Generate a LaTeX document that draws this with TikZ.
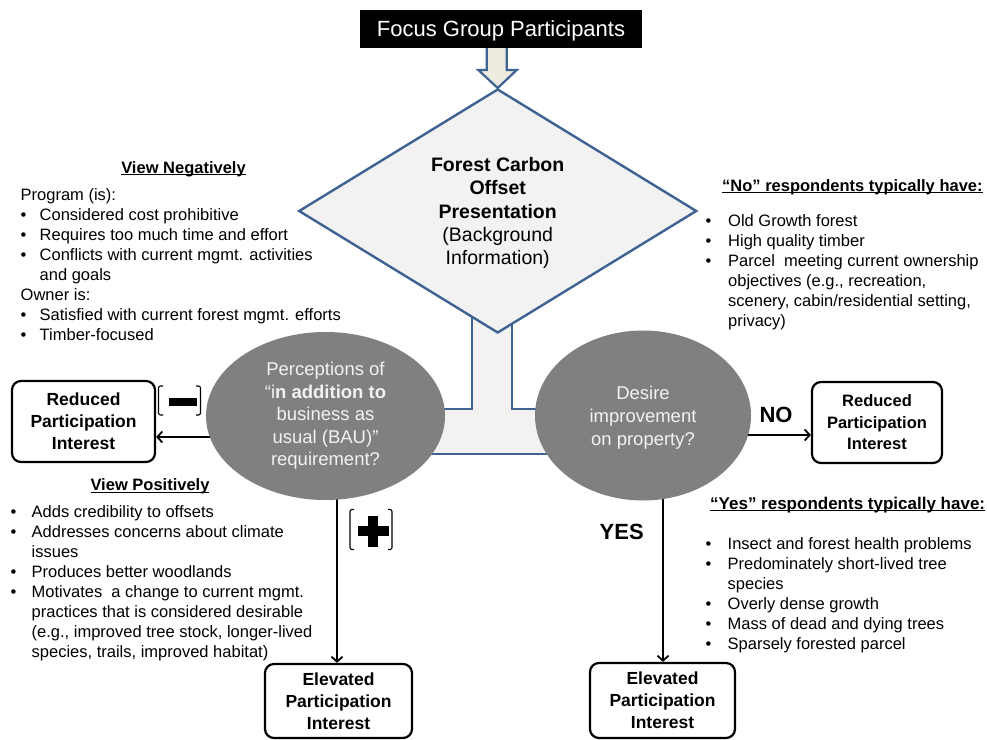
\documentclass[tikz,border=0pt]{standalone}
\usepackage{fontspec}
\setmainfont{Liberation Sans}
\usetikzlibrary{shapes.geometric,arrows.meta,calc}
\definecolor{dblue}{RGB}{62,98,145}
\definecolor{lgray}{RGB}{242,242,242}
\definecolor{beige}{RGB}{238,236,225}
\definecolor{egray}{RGB}{128,128,128}
\definecolor{etext}{RGB}{242,242,242}
\newlength\myulw
\newcommand\myul[1]{\settowidth\myulw{#1}\rlap{\rule[-2.2pt]{\myulw}{1.2pt}}#1}
\newcommand\bu[1]{\makebox[#1][l]{•}}
\begin{document}
\begin{tikzpicture}[x=1pt,y=-1pt,
  box/.style={draw=black, line width=2.2pt, rounded corners=9pt, fill=white, align=center, inner sep=0pt, text depth=0pt, font=\fontsize{17.5}{22}\selectfont\bfseries},
  ell/.style={ellipse, fill=egray, inner sep=0pt, align=center, text=etext, font=\fontsize{18.5}{22.5}\selectfont},
  arr/.style={draw=black, line width=1.8pt, -{Straight Barb[length=5pt,width=11pt]}},
  lst/.style={anchor=base west, inner sep=0pt, font=\fontsize{16.5}{20}\selectfont},
  hdr/.style={anchor=base, inner sep=0pt, font=\fontsize{16.5}{20}\selectfont\bfseries},
  brk/.style={draw=black, line width=1.1pt, rounded corners=2pt},
  lbl/.style={inner sep=0pt, font=\fontsize{22}{26}\selectfont\bfseries},
]
\useasboundingbox (0,0) rectangle (987,739);
\fill[white] (0,0) rectangle (987,739);

% block arrow
\draw[dblue, line width=2.2pt, fill=beige, line join=miter]
  (486.7,46) -- (486.7,70) -- (478.3,70) -- (497.7,88) -- (516.7,70) -- (506.7,70) -- (506.7,46) -- cycle;
\node[fill=black, text=white, minimum width=282pt, minimum height=38pt, inner sep=0pt, text depth=0pt,
  font=\fontsize{22}{26}\selectfont] (fg) at (501,29) {Focus Group Participants};

% T connector
\draw[dblue, line width=2.4pt, fill=lgray, line join=miter]
  (472,300) -- (472,409) -- (420,409) -- (420,454) -- (565,454) -- (565,409) -- (512,409) -- (512,300);

% diamond
\node[diamond, draw=dblue, line width=2.4pt, fill=lgray, minimum width=398pt, minimum height=244pt,
  inner sep=0pt, align=center, text depth=0pt, font=\fontsize{19.5}{23.2}\selectfont] (pres) at (497.7,211)
  {\textbf{Forest Carbon}\\\textbf{Offset}\\\textbf{Presentation}\\(Background\\Information)};

% connectors
\coordinate (pL) at (235,437);
\coordinate (pR) at (740,435);
\coordinate (pD1) at (337,480);
\coordinate (pD2) at (663,480);

% boxes
\node[box, minimum width=143pt, minimum height=81pt] (redL) at (83.5,421.5) {Reduced\\Participation\\Interest};
\node[box, minimum width=130pt, minimum height=81pt, font=\fontsize{16.5}{21.5}\selectfont\bfseries] (redR) at (877,422.5) {Reduced\\Participation\\Interest};
\node[box, minimum width=147pt, minimum height=74pt] (elevL) at (338.5,701) {Elevated\\Participation\\Interest};
\node[box, minimum width=145pt, minimum height=75pt] (elevR) at (662.5,700.5) {Elevated\\Participation\\Interest};

\draw[arr] (pL) -- (pL -| redL.east);
\draw[arr] (pR) -- (pR -| redR.west);
\draw[arr] (pD1) -- (pD1 |- elevL.north);
\draw[arr] (pD2) -- (pD2 |- elevR.north);

% ellipses
\node[ell, minimum width=239pt, minimum height=168pt] (perc) at (325.5,416)
  {Perceptions of\\“i\textbf{n addition to}\\business as\\usual (BAU)”\\requirement?};
\node[ell, minimum width=216pt, minimum height=170pt, text depth=0pt, font=\fontsize{18.5}{23}\selectfont] (des) at (643,415.5)
  {Desire\\improvement\\on property?};

% labels
\node[lbl] (no) at (776,415) {NO};
\node[lbl] (yes) at (621.7,532.3) {YES};

% minus icon
\draw[brk] (163,386) -- (158.5,386) -- (158.5,415) -- (163,415);
\draw[brk] (196,386) -- (200.5,386) -- (200.5,415) -- (196,415);
\fill[black] (169,398) rectangle (197,406);
% plus icon
\draw[brk] (354,509.5) -- (350,509.5) -- (350,549.5) -- (354,549.5);
\draw[brk] (388,509.5) -- (392,509.5) -- (392,549.5) -- (388,549.5);
\fill[black] (357.5,526) rectangle (388.5,536);
\fill[black] (368,515.5) rectangle (378,546.5);

% text blocks
\node[hdr] (negh) at (183.5,173) {\myul{View Negatively}};
\node[lst] (negl) at (20.5,200) {\begin{tabular}[t]{@{}l@{}}
Program (is):\\
\bu{19pt}Considered cost prohibitive\\
\bu{19pt}Requires too much time and effort\\
\bu{19pt}Conflicts with current mgmt. activities\\
\hspace*{19pt}and goals\\
Owner is:\\
\bu{19pt}Satisfied with current forest mgmt. efforts\\
\bu{19pt}Timber-focused
\end{tabular}};

\node[hdr] (posh) at (150,490.5) {\myul{View Positively}};
\node[lst] (posl) at (10.5,517.5) {\begin{tabular}[t]{@{}l@{}}
\bu{21pt}Adds credibility to offsets\\
\bu{21pt}Addresses concerns about climate\\
\hspace*{21pt}issues\\
\bu{21pt}Produces better woodlands\\
\bu{21pt}Motivates\ \ a change to current mgmt.\\
\hspace*{21pt}practices that is considered desirable\\
\hspace*{21pt}(e.g., improved tree stock, longer-lived\\
\hspace*{21pt}species, trails, improved habitat)
\end{tabular}};

\node[hdr, anchor=base west] (noh) at (722,191) {\myul{“No” respondents typically have:}};
\node[lst] (nol) at (705.5,226) {\begin{tabular}[t]{@{}l@{}}
\bu{22.5pt}Old Growth forest\\
\bu{22.5pt}High quality timber\\
\bu{22.5pt}Parcel\ \ meeting current ownership\\
\hspace*{22.5pt}objectives (e.g., recreation,\\
\hspace*{22.5pt}scenery, cabin/residential setting,\\
\hspace*{22.5pt}privacy)
\end{tabular}};

\node[hdr, anchor=base west, font=\fontsize{17}{20}\selectfont\bfseries] (yesh) at (710,509) {\myul{“Yes” respondents typically have:}};
\node[lst] (yesl) at (705.5,549) {\begin{tabular}[t]{@{}l@{}}
\bu{22pt}Insect and forest health problems\\
\bu{22pt}Predominately short-lived tree\\
\hspace*{22pt}species\\
\bu{22pt}Overly dense growth\\
\bu{22pt}Mass of dead and dying trees\\
\bu{22pt}Sparsely forested parcel
\end{tabular}};
\end{tikzpicture}
\end{document}
